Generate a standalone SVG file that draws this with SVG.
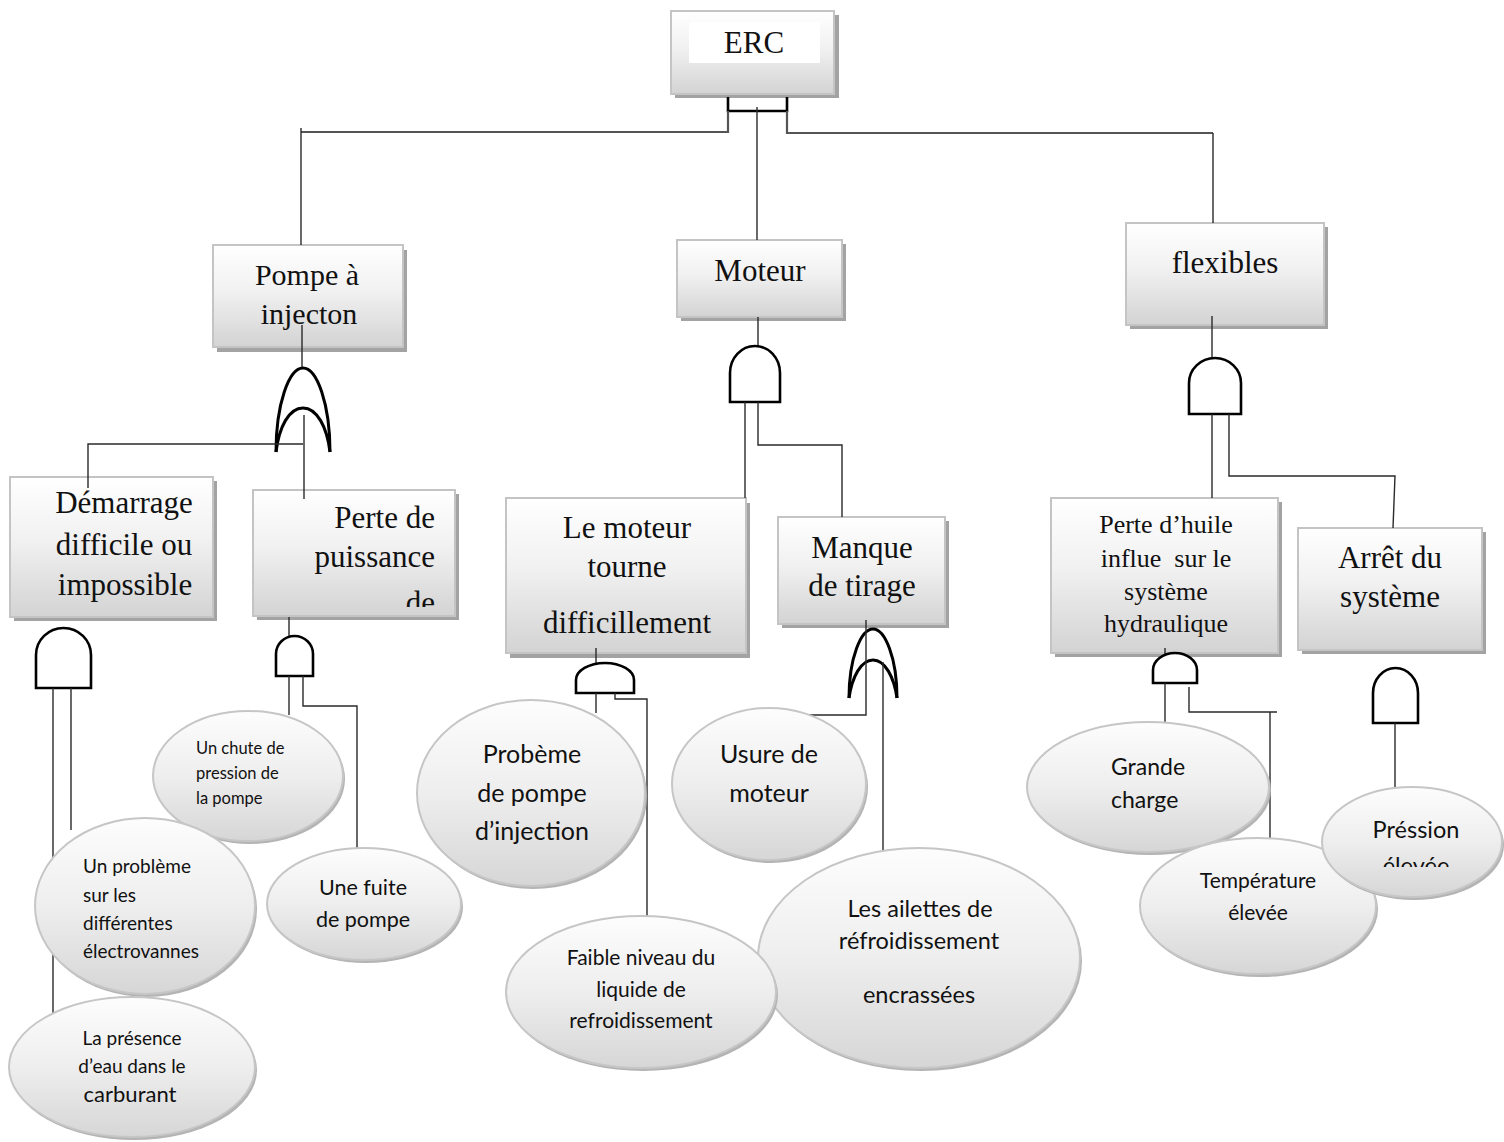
<svg xmlns="http://www.w3.org/2000/svg" width="1504" height="1142" viewBox="0 0 1504 1142">
  <defs>
    <linearGradient id="boxFill" x1="0" y1="0" x2="0" y2="1">
      <stop offset="0" stop-color="#ffffff"/>
      <stop offset="0.45" stop-color="#f1f1f1"/>
      <stop offset="1" stop-color="#d3d3d3"/>
    </linearGradient>
    <linearGradient id="ellFill" x1="0" y1="0" x2="0" y2="1">
      <stop offset="0" stop-color="#fdfdfd"/>
      <stop offset="0.5" stop-color="#eeeeee"/>
      <stop offset="1" stop-color="#d6d6d6"/>
    </linearGradient>
    <clipPath id="clipPerte"><rect x="250" y="486" width="210" height="121"/></clipPath>
    <clipPath id="clipPression"><rect x="1320" y="780" width="184" height="87"/></clipPath>
    <style>
      .shadow { fill: #a3a3a3; }
      .box { fill: url(#boxFill); stroke: #c4c4c4; stroke-width: 2; }
      .ell { fill: url(#ellFill); stroke: #c6c6c6; stroke-width: 2; }
      .eshadow { fill: #b4b4b4; }
      .serif { font-family: "Liberation Serif", "Times New Roman", serif; fill: #111; }
      .sans { font-family: Lato, "Open Sans", sans-serif; fill: #111; }
      .mid { text-anchor: middle; }
      .end { text-anchor: end; }
      .wire { fill: none; stroke: #2a2a2a; stroke-width: 1.4; }
      .bus { fill: none; stroke: #555; stroke-width: 2.2; }
      .gate { fill: #fff; stroke: #000; stroke-width: 2.6; }
      .orgate { fill: none; stroke: #000; stroke-width: 3; }
    </style>
  </defs>

  <rect width="1504" height="1142" fill="#fff"/>

  <!-- event boxes -->
  <g id="erc">
    <rect class="shadow" x="675" y="15" width="164" height="83"/>
    <rect class="box" x="671" y="11" width="163" height="83"/>
    <rect x="689" y="22" width="131" height="41" fill="#fff"/>
    <text class="serif mid" x="754" y="53" font-size="31">ERC</text>
  </g>
  <g id="pompe">
    <rect class="shadow" x="217" y="250" width="190" height="102"/>
    <rect class="box" x="213" y="245" width="190" height="102"/>
    <text class="serif mid" font-size="30"><tspan x="307" y="285">Pompe à</tspan><tspan x="309" y="324">injecton</tspan></text>
  </g>
  <g id="moteur">
    <rect class="shadow" x="681" y="244" width="165" height="77"/>
    <rect class="box" x="677" y="240" width="165" height="77"/>
    <text class="serif mid" x="760" y="281" font-size="31">Moteur</text>
  </g>
  <g id="flexibles">
    <rect class="shadow" x="1130" y="227" width="198" height="102"/>
    <rect class="box" x="1126" y="223" width="198" height="102"/>
    <text class="serif mid" x="1225" y="273" font-size="31">flexibles</text>
  </g>
  <g id="demarrage">
    <rect class="shadow" x="14" y="481" width="203" height="140"/>
    <rect class="box" x="10" y="477" width="203" height="140"/>
    <text class="serif mid" font-size="31"><tspan x="124" y="513">Démarrage</tspan><tspan x="124" y="555">difficile ou</tspan><tspan x="125" y="595">impossible</tspan></text>
  </g>
  <g id="perte-puissance">
    <rect class="shadow" x="257" y="494" width="202" height="126"/>
    <rect class="box" x="253" y="490" width="202" height="126"/>
    <g clip-path="url(#clipPerte)">
      <text class="serif end" font-size="31"><tspan x="435" y="528">Perte de</tspan><tspan x="435" y="567">puissance</tspan><tspan x="435" y="613">de</tspan></text>
    </g>
  </g>
  <g id="moteur-tourne">
    <rect class="shadow" x="510" y="503" width="240" height="155"/>
    <rect class="box" x="506" y="498" width="240" height="155"/>
    <text class="serif mid" font-size="31"><tspan x="627" y="538">Le moteur</tspan><tspan x="627" y="577">tourne</tspan><tspan x="627" y="633">difficillement</tspan></text>
  </g>
  <g id="manque-tirage">
    <rect class="shadow" x="782" y="521" width="167" height="107"/>
    <rect class="box" x="778" y="517" width="167" height="107"/>
    <text class="serif mid" font-size="31"><tspan x="862" y="558">Manque</tspan><tspan x="862" y="596">de tirage</tspan></text>
  </g>
  <g id="perte-huile">
    <rect class="shadow" x="1055" y="502" width="227" height="155"/>
    <rect class="box" x="1051" y="498" width="227" height="155"/>
    <text class="serif mid" font-size="26"><tspan x="1166" y="533">Perte d’huile</tspan><tspan x="1166" y="567" xml:space="preserve">influe  sur le</tspan><tspan x="1166" y="600">système</tspan><tspan x="1166" y="632">hydraulique</tspan></text>
  </g>
  <g id="arret">
    <rect class="shadow" x="1302" y="532" width="184" height="122"/>
    <rect class="box" x="1298" y="528" width="184" height="122"/>
    <text class="serif mid" font-size="31"><tspan x="1390" y="568">Arrêt du</tspan><tspan x="1390" y="607">système</tspan></text>
  </g>

  <!-- connectors and logic gates -->
  <g id="connectors">
    <path d="M728,97 V111 H787 V97" fill="none" stroke="#000" stroke-width="2.6"/>
    <path class="wire" d="M757,107 V240"/>
    <path class="bus" d="M728,111 V132 H301"/>
    <path class="wire" d="M301,128 V245"/>
    <path class="bus" d="M787,111 V133 H1213"/>
    <path class="wire" d="M1213,133 V223"/>

    <!-- Pompe à injection: OR gate -->
    <path class="wire" d="M302,325 V368"/>
    <path class="orgate" d="M276,452 C276,404 289,368 303,368 C317,368 330,404 330,452"/>
    <path class="orgate" d="M276,452 C279,427 289,408 303,408 C317,408 327,427 330,452"/>
    <path class="wire" d="M303,444 H88 V488"/>
    <path class="wire" d="M304,415 V499"/>

    <!-- Démarrage: AND gate -->
    <path class="gate" d="M36,688 V655 A27.5,27 0 0 1 91,655 V688 Z"/>
    <path class="wire" d="M53,688 V1020"/>
    <path class="wire" d="M71,688 V830"/>

    <!-- Perte de puissance: AND gate -->
    <path class="wire" d="M289,617 V637"/>
    <path class="gate" d="M276,676 V654 A18.5,18 0 0 1 313,654 V676 Z"/>
    <path class="wire" d="M289,676 V715"/>
    <path class="wire" d="M303,676 V706 H357 V848"/>

    <!-- Moteur: AND gate -->
    <path class="wire" d="M758,317 V346"/>
    <path class="gate" d="M730,402 V373 A25,27 0 0 1 780,373 V402 Z"/>
    <path class="wire" d="M745,402 V498"/>
    <path class="wire" d="M758,402 V445 H842 V517"/>

    <!-- Le moteur tourne difficilement: AND gate -->
    <path class="wire" d="M596,648 V664"/>
    <path class="gate" d="M576,693 V680 A29,17 0 0 1 634,680 V693 Z"/>
    <path class="wire" d="M596,693 V713"/>
    <path class="wire" d="M615,693 V699 H647 V959"/>

    <!-- Manque de tirage: OR gate -->
    <path class="orgate" d="M849,698 C849,658 861,629 873,629 C885,629 897,658 897,698"/>
    <path class="orgate" d="M849,698 C852,677 861,660 873,660 C885,660 894,677 897,698"/>
    <path class="wire" d="M866,620 V715 H786"/>
    <path class="wire" d="M883,662 V850"/>

    <!-- flexibles: AND gate -->
    <path class="wire" d="M1212,316 V358"/>
    <path class="gate" d="M1189,414 V383 A26,25 0 0 1 1241,383 V414 Z"/>
    <path class="wire" d="M1212,414 V498"/>
    <path class="wire" d="M1229,414 V476 H1395 L1393,528"/>

    <!-- Perte d'huile: AND gate -->
    <path class="wire" d="M1165,648 V655"/>
    <path class="gate" d="M1153,683 V670 A22,17 0 0 1 1197,670 V683 Z"/>
    <path class="wire" d="M1165,683 V722"/>
    <path class="wire" d="M1189,687 V712 H1277"/>
    <path class="wire" d="M1270,712 V839"/>

    <!-- Arrêt du système: AND gate -->
    <path class="gate" d="M1373,723 V693 A22.5,25 0 0 1 1418,693 V723 Z"/>
    <path class="wire" d="M1395,723 V787"/>
  </g>

  <!-- basic events -->
  <g id="chute-pression">
    <ellipse class="eshadow" cx="250" cy="779" rx="95" ry="65"/>
    <ellipse class="ell" cx="248" cy="776" rx="95" ry="65"/>
    <text class="sans" font-size="16.5"><tspan x="196" y="754">Un chute de</tspan><tspan x="196" y="779">pression de</tspan><tspan x="196" y="804">la pompe</tspan></text>
  </g>
  <g id="electrovannes">
    <ellipse class="eshadow" cx="147" cy="909" rx="110" ry="88"/>
    <ellipse class="ell" cx="145" cy="906" rx="110" ry="88"/>
    <text class="sans" font-size="19"><tspan x="83" y="873">Un problème</tspan><tspan x="83" y="902">sur les</tspan><tspan x="83" y="930">différentes</tspan><tspan x="83" y="958">électrovannes</tspan></text>
  </g>
  <g id="presence-eau">
    <ellipse class="eshadow" cx="134" cy="1070" rx="123" ry="70"/>
    <ellipse class="ell" cx="132" cy="1067" rx="123" ry="70"/>
    <text class="sans mid" font-size="19"><tspan x="132" y="1045">La présence</tspan><tspan x="132" y="1073">d’eau dans le</tspan><tspan x="130" y="1102" font-size="22">carburant</tspan></text>
  </g>
  <g id="fuite-pompe">
    <ellipse class="eshadow" cx="366" cy="907" rx="97" ry="56"/>
    <ellipse class="ell" cx="364" cy="904" rx="97" ry="56"/>
    <text class="sans mid" font-size="21.5"><tspan x="363" y="895">Une fuite</tspan><tspan x="363" y="927">de pompe</tspan></text>
  </g>
  <g id="probleme-pompe">
    <ellipse class="eshadow" cx="533" cy="796" rx="114" ry="93"/>
    <ellipse class="ell" cx="531" cy="793" rx="114" ry="93"/>
    <text class="sans mid" font-size="25"><tspan x="532" y="763">Probème</tspan><tspan x="532" y="802">de pompe</tspan><tspan x="532" y="840">d’injection</tspan></text>
  </g>
  <g id="usure-moteur">
    <ellipse class="eshadow" cx="771" cy="787" rx="97" ry="76"/>
    <ellipse class="ell" cx="769" cy="784" rx="97" ry="76"/>
    <text class="sans mid" font-size="25"><tspan x="769" y="763">Usure de</tspan><tspan x="769" y="802">moteur</tspan></text>
  </g>
  <g id="ailettes">
    <ellipse class="eshadow" cx="921" cy="961" rx="161" ry="110"/>
    <ellipse class="ell" cx="919" cy="958" rx="161" ry="110"/>
    <text class="sans mid" font-size="23.5"><tspan x="920" y="917">Les ailettes de</tspan><tspan x="919" y="949">réfroidissement</tspan><tspan x="919" y="1003">encrassées</tspan></text>
  </g>
  <g id="niveau-liquide">
    <ellipse class="eshadow" cx="643" cy="995" rx="135" ry="76"/>
    <ellipse class="ell" cx="641" cy="992" rx="135" ry="76"/>
    <text class="sans mid" font-size="21"><tspan x="641" y="965">Faible niveau du</tspan><tspan x="641" y="997">liquide de</tspan><tspan x="641" y="1028">refroidissement</tspan></text>
  </g>
  <g id="grande-charge">
    <ellipse class="eshadow" cx="1150" cy="790" rx="121" ry="65"/>
    <ellipse class="ell" cx="1148" cy="787" rx="121" ry="65"/>
    <text class="sans" font-size="23"><tspan x="1111" y="775">Grande</tspan><tspan x="1111" y="808">charge</tspan></text>
  </g>
  <g id="temperature">
    <ellipse class="eshadow" cx="1260" cy="909" rx="118" ry="68"/>
    <ellipse class="ell" cx="1258" cy="906" rx="118" ry="68"/>
    <text class="sans mid" font-size="21"><tspan x="1258" y="888">Température</tspan><tspan x="1258" y="920">élevée</tspan></text>
  </g>
  <g id="pression">
    <ellipse class="eshadow" cx="1414" cy="845" rx="90" ry="55"/>
    <ellipse class="ell" cx="1412" cy="842" rx="90" ry="55"/>
    <g clip-path="url(#clipPression)">
      <text class="sans mid" font-size="23.5"><tspan x="1416" y="838">Préssion</tspan><tspan x="1416" y="874">élevée</tspan></text>
    </g>
  </g>
</svg>
